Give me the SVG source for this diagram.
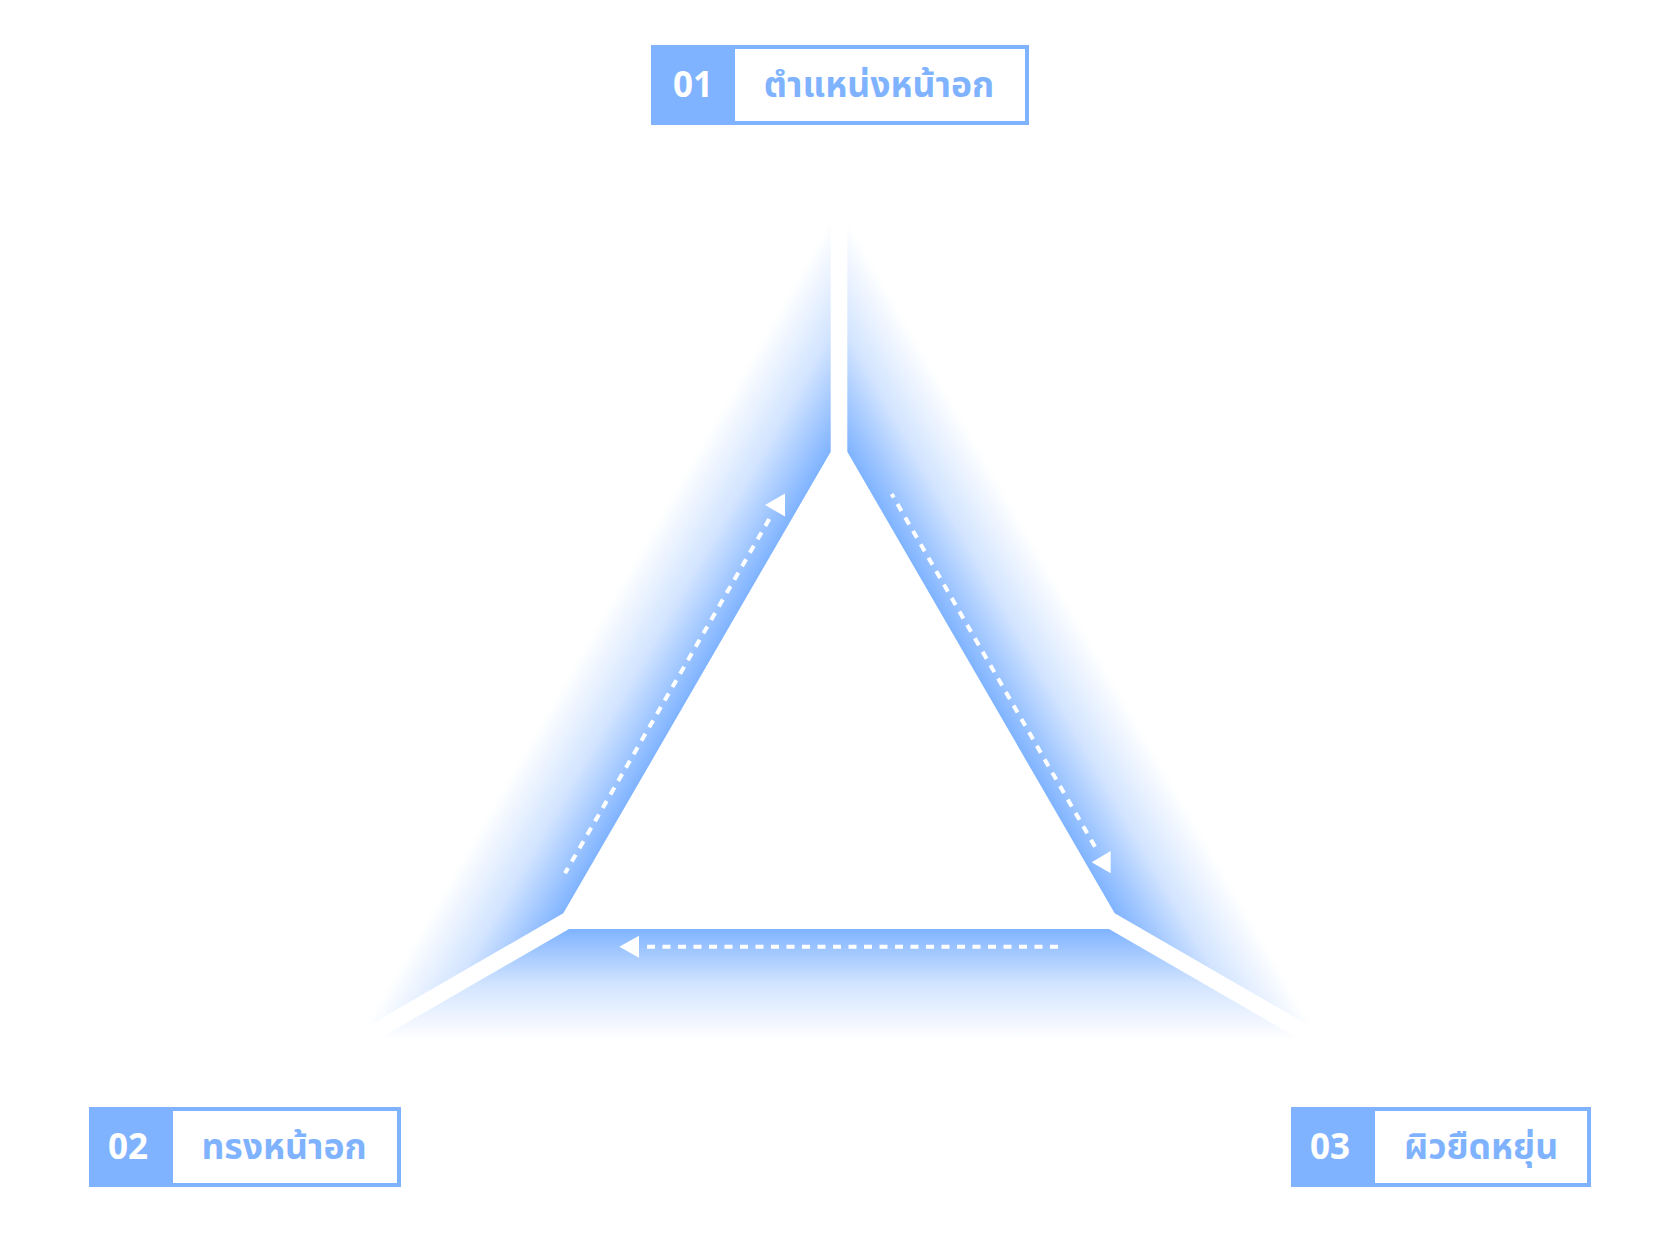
<svg xmlns="http://www.w3.org/2000/svg" width="1662" height="1234" viewBox="0 0 1662 1234">
  <style>
    .numbox { fill: #7FB3FF; }
    .frame { fill: #FFFFFF; stroke: #7FB3FF; stroke-width: 4; }
    .num { font-family: "Open Sans", "Noto Sans", sans-serif; font-weight: 700; font-size: 35px; fill: #FFFFFF; text-anchor: middle; }
    .lbl { font-family: "Noto Sans Thai", "Noto Sans Thai Looped", "Noto Sans", "DejaVu Sans", sans-serif; font-weight: 700; font-size: 35.5px; fill: #7FB3FF; text-anchor: middle; }
    .dash { fill: none; stroke: #FFFFFF; stroke-width: 4; stroke-dasharray: 8 7.5; }
    .head { fill: #FFFFFF; }
  </style>
  <defs>
    <linearGradient id="gLeft" gradientUnits="userSpaceOnUse" x1="830.7" y1="451.7" x2="730.2" y2="393.7">
      <stop offset="0" stop-color="#7FB3FF"/>
      <stop offset="0.5" stop-color="#D2E4FF"/>
      <stop offset="1" stop-color="#FFFFFF"/>
    </linearGradient>
    <linearGradient id="gRight" gradientUnits="userSpaceOnUse" x1="847.3" y1="451.7" x2="947.8" y2="393.7">
      <stop offset="0" stop-color="#7FB3FF"/>
      <stop offset="0.5" stop-color="#D2E4FF"/>
      <stop offset="1" stop-color="#FFFFFF"/>
    </linearGradient>
    <linearGradient id="gBottom" gradientUnits="userSpaceOnUse" x1="0" y1="929" x2="0" y2="1039">
      <stop offset="0" stop-color="#7FB3FF"/>
      <stop offset="0.5" stop-color="#D2E4FF"/>
      <stop offset="1" stop-color="#FFFFFF"/>
    </linearGradient>
  </defs>
  <rect x="0" y="0" width="1662" height="1234" fill="#FFFFFF"/>

  <g id="bands">
    <polygon points="830.7,219.7 830.7,451.7 563.3,913.3 362.4,1029.3" fill="url(#gLeft)"/>
    <polygon points="847.3,219.7 847.3,451.7 1114.7,913.3 1315.6,1029.3" fill="url(#gRight)"/>
    <polygon points="569,929 1109,929 1299.5,1039 378.5,1039" fill="url(#gBottom)"/>
  </g>

  <g id="connectors">
    <path class="dash" d="M769.3,519 L565,873.3"/>
    <polygon class="head" points="765,505 785,493.5 785,516.5"/>
    <path class="dash" d="M1095,846.7 L891.7,494"/>
    <polygon class="head" points="1091.7,862.3 1110.7,851 1110.7,873.3"/>
    <path class="dash" d="M647,946.7 L1059,946.7"/>
    <polygon class="head" points="619.3,946.7 639,935.7 639,957.7"/>
  </g>

  <g id="node-01">
    <rect class="frame" x="653" y="47" width="374" height="76"/>
    <rect class="numbox" x="651" y="45" width="84" height="80"/>
    <text class="num" x="693" y="97">01</text>
    <text class="lbl" x="879" y="97">ตำแหน่งหน้าอก</text>
  </g>

  <g id="node-02">
    <rect class="frame" x="91" y="1109" width="308" height="76"/>
    <rect class="numbox" x="89" y="1107" width="84" height="80"/>
    <text class="num" x="128" y="1159">02</text>
    <text class="lbl" x="284" y="1159">ทรงหน้าอก</text>
  </g>

  <g id="node-03">
    <rect class="frame" x="1293" y="1109" width="296" height="76"/>
    <rect class="numbox" x="1291" y="1107" width="84" height="80"/>
    <text class="num" x="1330" y="1159">03</text>
    <text class="lbl" x="1481" y="1159">ผิวยืดหยุ่น</text>
  </g>
</svg>
